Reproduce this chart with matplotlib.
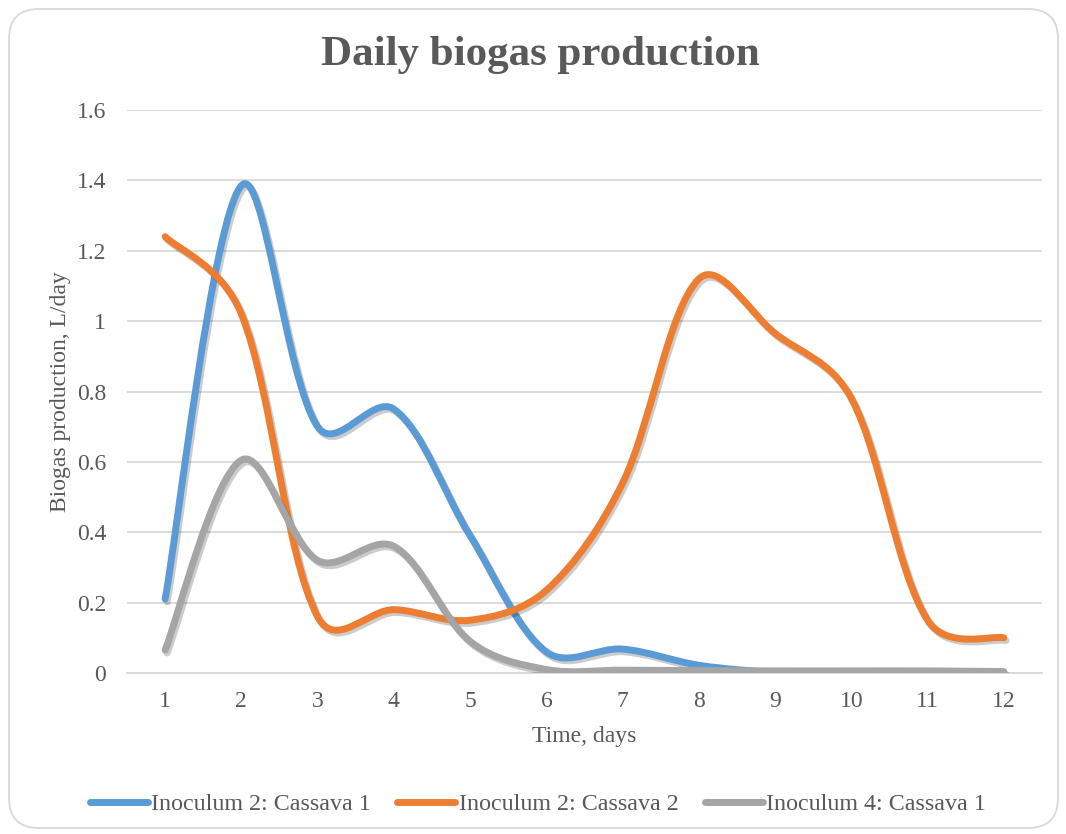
import numpy as np
import matplotlib
matplotlib.use('Agg')
import matplotlib.pyplot as plt
import matplotlib.patheffects as pe
from matplotlib.path import Path
from matplotlib.patches import PathPatch, FancyBboxPatch
from matplotlib.lines import Line2D
import matplotlib.transforms as mtransforms

# datos
dias = [1, 2, 3, 4, 5, 6, 7, 8, 9, 10, 11, 12]
inoc2_cas1 = [0.21, 1.385, 0.70, 0.75, 0.39, 0.06, 0.068, 0.022, 0.0]
inoc2_cas2 = [1.24, 1.02, 0.16, 0.18, 0.15, 0.235, 0.54, 1.12, 0.965, 0.78, 0.15, 0.10]
inoc4_cas1 = [0.065, 0.605, 0.32, 0.36, 0.09, 0.01, 0.008, 0.007, 0.006, 0.006, 0.006, 0.004]

series = [
    ('Inoculum 2: Cassava 1', inoc2_cas1, '#5B9BD5'),
    ('Inoculum 2: Cassava 2', inoc2_cas2, '#ED7D31'),
    ('Inoculum 4: Cassava 1', inoc4_cas1, '#A5A5A5'),
]

texto = '#595959'
plt.rcParams['font.family'] = ['Liberation Serif', 'DejaVu Serif']


def curva_suave(ax, x, y):
    # linea suavizada estilo Excel: bezier en pixeles, tangentes algo escaladas por largo de tramo
    pts = ax.transData.transform(np.column_stack((x, y)).astype(float))
    n = len(pts)
    verts = [pts[0]]
    codes = [Path.MOVETO]
    for i in range(n - 1):
        p0 = pts[i - 1] if i > 0 else pts[i]
        p1 = pts[i]
        p2 = pts[i + 1]
        p3 = pts[i + 2] if i + 2 < n else pts[i + 1]
        d01 = np.hypot(*(p1 - p0))
        d12 = np.hypot(*(p2 - p1))
        d23 = np.hypot(*(p3 - p2))
        f1 = (0.5 + d12 / (d01 + d12)) / 6 if d01 > 0 else 1 / 6
        f2 = (0.5 + d12 / (d12 + d23)) / 6 if d23 > 0 else 1 / 6
        c1 = p1 + (p2 - p0) * f1
        c2 = p2 - (p3 - p1) * f2
        verts += [c1, c2, p2]
        codes += [Path.CURVE4] * 3
    verts = ax.transData.inverted().transform(np.array(verts))
    return Path(verts, codes)


fig = plt.figure(figsize=(10.66, 8.34), dpi=100)
ax = fig.add_axes([127 / 1066, 1 - 673 / 834, (1042 - 127) / 1066, (673 - 110) / 834])
ax.set_xlim(0.5, 12.5)
ax.set_ylim(0, 1.6)

for nombre, vals, color in series:
    x = dias[:len(vals)]
    camino = curva_suave(ax, x, vals)
    patch = PathPatch(camino, facecolor='none', edgecolor=color, lw=5,
                      capstyle='round', joinstyle='round', zorder=3)
    patch.set_path_effects([pe.SimpleLineShadow(offset=(1.5, -2), shadow_color='k', alpha=0.2),
                            pe.Normal()])
    ax.add_patch(patch)

ax.set_xticks(dias)
ax.set_xticklabels([str(d) for d in dias])
ax.set_yticks(np.arange(0, 1.61, 0.2))
ax.set_yticklabels(['0', '0.2', '0.4', '0.6', '0.8', '1', '1.2', '1.4', '1.6'])
ax.grid(axis='y', color='#D9D9D9', lw=1.3)
ax.set_axisbelow(True)
for s in ['top', 'right', 'left']:
    ax.spines[s].set_visible(False)
ax.spines['bottom'].set_color('#D9D9D9')
ax.spines['bottom'].set_linewidth(1.3)
ax.tick_params(length=0, labelsize=17, colors=texto)
ax.tick_params(axis='y', pad=15)
ax.tick_params(axis='x', pad=13)
ax.set_xlabel('Time, days', fontsize=17, color=texto, labelpad=10)
ax.set_ylabel('Biogas production, L/day', fontsize=17, color=texto, labelpad=4)

fig.text(540 / 1066, 1 - 55 / 834, 'Daily biogas production', fontsize=31, fontweight='bold',
         color=texto, ha='center', va='center')

handles = [Line2D([0], [0], color=c, lw=5, solid_capstyle='round') for _, _, c in series]
leg = fig.legend(handles, [s[0] for s in series], loc='center', bbox_to_anchor=(538 / 1066, 1 - 804 / 834),
                 ncol=3, frameon=False, fontsize=17.3, handlelength=2.4, handletextpad=0.15,
                 columnspacing=1.1)
for t in leg.get_texts():
    t.set_color(texto)

borde = FancyBboxPatch((9, 6), 1049, 819, boxstyle='round,pad=0,rounding_size=30',
                       transform=mtransforms.IdentityTransform(), facecolor='none',
                       edgecolor='#D9D9D9', lw=1.3)
fig.patches.append(borde)

fig.savefig('out.png', dpi=100)
